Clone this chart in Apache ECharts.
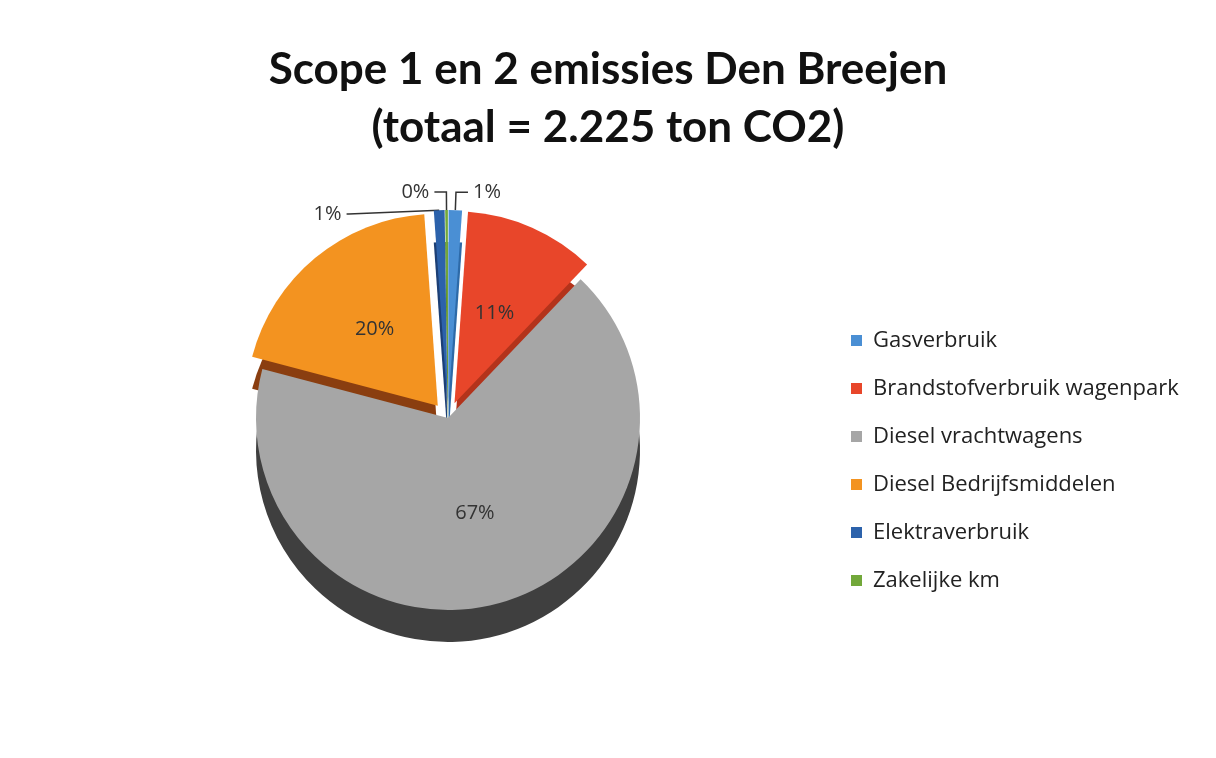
<!DOCTYPE html>
<html>
<head>
<meta charset="utf-8">
<script src="https://cdn.jsdelivr.net/npm/echarts@6/dist/echarts.min.js"></script>
<style>
  html, body { margin: 0; padding: 0; background: #fff; }
  #main { width: 1216px; height: 758px; }
</style>
</head>
<body>
<div id="main"></div>
<script>
// emissies in ton CO2 (totaal 2.225)
var categories = ['Gasverbruik', 'Brandstofverbruik wagenpark', 'Diesel vrachtwagens',
  'Diesel Bedrijfsmiddelen', 'Elektraverbruik', 'Zakelijke km']
var tons = [25, 245, 1490, 440, 20, 5]
var exploded = [true, true, false, true, true, true]

var topColors = ['#4a8fd4', '#e8462a', '#a6a6a6', '#f39320', '#2c62ab', '#72a83a']
var sideColors = ['#2d6aa8', '#b3331b', '#3f3f3f', '#8a3e10', '#1c3f75', '#4c7424']

function pieData (colors, withLabel) {
  return categories.map(function (name, i) {
    var small = tons[i] / 2225 < 0.03
    return {
      name: name,
      value: tons[i],
      selected: exploded[i],
      itemStyle: { color: colors[i] },
      label: withLabel ? { position: small ? 'outside' : 'inner' } : { show: false },
      labelLine: { show: withLabel && small }
    }
  })
}

var chart = echarts.init(document.getElementById('main'))
chart.setOption({
  backgroundColor: '#fff',
  animation: false,
  title: {
    text: 'Scope 1 en 2 emissies Den Breejen\n(totaal = 2.225 ton CO2)',
    left: 'center',
    top: 36,
    textStyle: {
      fontFamily: 'Lato',
      fontWeight: 'bold',
      fontSize: 44,
      lineHeight: 58,
      color: '#111'
    }
  },
  legend: {
    orient: 'vertical',
    left: 846,
    top: 324,
    itemGap: 25,
    itemWidth: 11,
    itemHeight: 11,
    icon: 'rect',
    data: categories,
    textStyle: { fontFamily: 'Open Sans', fontSize: 22, lineHeight: 23, color: '#222', padding: [0, 0, 0, 6] }
  },
  series: [
    {
      name: 'top',
      type: 'pie',
      z: 3,
      center: [448, 418],
      radius: 192,
      startAngle: 90,
      clockwise: true,
      selectedMode: 'multiple',
      selectedOffset: 16,
      avoidLabelOverlap: true,
      label: {
        formatter: function (p) { return Math.round(p.percent) + '%' },
        fontFamily: 'Open Sans',
        fontSize: 20,
        color: '#333'
      },
      labelLine: { length: 18, length2: 12, lineStyle: { color: '#333', width: 1.5 } },
      data: pieData(topColors, true)
    },
    {
      name: 'rand',
      type: 'pie',
      z: 2,
      silent: true,
      center: [448, 450],
      radius: 192,
      startAngle: 90,
      clockwise: true,
      selectedMode: 'multiple',
      selectedOffset: 16,
      label: { show: false },
      labelLine: { show: false },
      data: pieData(sideColors, false)
    }
  ]
})
</script>
</body>
</html>
